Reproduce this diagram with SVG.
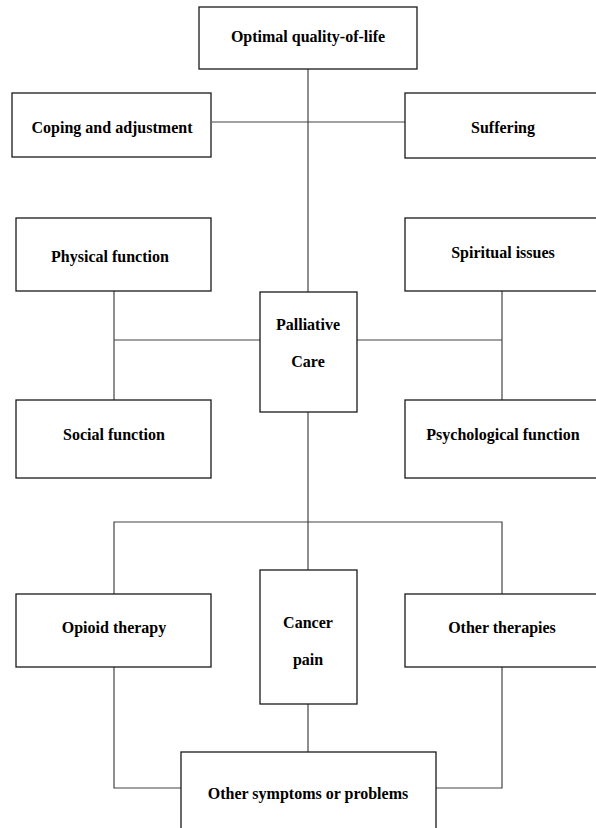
<svg xmlns="http://www.w3.org/2000/svg" width="596" height="828" viewBox="0 0 596 828">
<style>
.box{fill:#fff;stroke:#1a1a1a;stroke-width:1.3}
.lbl{font-family:'Liberation Serif','Times New Roman','DejaVu Serif',serif;font-weight:bold;font-size:16px;fill:#000;text-anchor:middle}
.con{fill:none;stroke:#444;stroke-width:1.2}
</style>
<rect width="596" height="828" fill="#fff"/>
<g id="connectors">
<line class="con" x1="308" y1="69" x2="308" y2="292"/>
<line class="con" x1="212" y1="122" x2="405" y2="122"/>
<line class="con" x1="114" y1="291" x2="114" y2="400"/>
<line class="con" x1="114" y1="340" x2="260" y2="340"/>
<line class="con" x1="357" y1="340" x2="502" y2="340"/>
<line class="con" x1="502" y1="291" x2="502" y2="400"/>
<line class="con" x1="308" y1="412" x2="308" y2="570"/>
<polyline class="con" points="114,594 114,522 502,522 502,594"/>
<line class="con" x1="308" y1="704" x2="308" y2="752"/>
<polyline class="con" points="114,667 114,788 181,788"/>
<polyline class="con" points="502,667 502,788 436,788"/>
</g>
<g id="optimal"><rect class="box" x="199" y="7" width="218" height="62"/><text class="lbl" x="308" y="42">Optimal quality-of-life</text></g>
<g id="coping"><rect class="box" x="12" y="93" width="199" height="64"/><text class="lbl" x="112" y="133">Coping and adjustment</text></g>
<g id="suffering"><rect class="box" x="405" y="93" width="200" height="65"/><text class="lbl" x="503" y="133">Suffering</text></g>
<g id="physical"><rect class="box" x="16" y="218" width="195" height="73"/><text class="lbl" x="110" y="262">Physical function</text></g>
<g id="spiritual"><rect class="box" x="405" y="218" width="200" height="73"/><text class="lbl" x="503" y="258">Spiritual issues</text></g>
<g id="palliative"><rect class="box" x="260" y="292" width="97" height="120"/><text class="lbl" x="308" y="330">Palliative</text><text class="lbl" x="308" y="367">Care</text></g>
<g id="social"><rect class="box" x="16" y="400" width="195" height="78"/><text class="lbl" x="114" y="440">Social function</text></g>
<g id="psychological"><rect class="box" x="405" y="400" width="200" height="78"/><text class="lbl" x="503" y="440">Psychological function</text></g>
<g id="opioid"><rect class="box" x="16" y="594" width="195" height="73"/><text class="lbl" x="114" y="633">Opioid therapy</text></g>
<g id="cancer"><rect class="box" x="260" y="570" width="97" height="134"/><text class="lbl" x="308" y="628">Cancer</text><text class="lbl" x="308" y="665">pain</text></g>
<g id="other-therapies"><rect class="box" x="405" y="594" width="200" height="73"/><text class="lbl" x="502" y="633">Other therapies</text></g>
<g id="other-symptoms"><rect class="box" x="181" y="752" width="255" height="90"/><text class="lbl" x="308" y="799">Other symptoms or problems</text></g>
</svg>
